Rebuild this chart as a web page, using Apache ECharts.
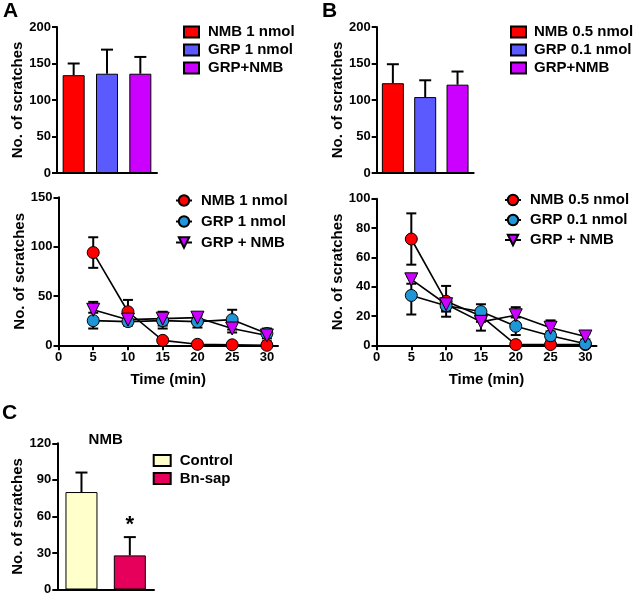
<!DOCTYPE html>
<html><head><meta charset="utf-8">
<script src="https://cdn.jsdelivr.net/npm/echarts@6/dist/echarts.min.js"></script>
<style>html,body{margin:0;padding:0;background:#fff}#c{width:640px;height:596px}</style>
</head><body><div id="c"></div>
<script>
// ---------- data ----------
const times = [5, 10, 15, 20, 25, 30];
const timeTicks = [0, 5, 10, 15, 20, 25, 30];

// Panel A (top bars)
const barLabelsA = ['NMB 1 nmol', 'GRP 1 nmol', 'GRP+NMB'];
const barMeanA = [134, 136, 136];
const barSemA = [16, 33, 23];
// Panel A (bottom time course)
const lineLabelsA = ['NMB 1 nmol', 'GRP 1 nmol', 'GRP + NMB'];
const nmbA = [94, 34, 5, 1, 0.5, 0];
const nmbSemA = [15.5, 12, 2, 1, 1, 1];
const grpA = [25, 24, 25, 24, 26, 12];
const grpSemA = [8, 4, 8, 6, 10, 5];
const combA = [36, 26, 27, 28, 17, 10];
const combSemA = [8, 4, 7, 4, 4, 6];

// Panel B (top bars)
const barLabelsB = ['NMB 0.5 nmol', 'GRP 0.1 nmol', 'GRP+NMB'];
const barMeanB = [123, 104, 121];
const barSemB = [26, 23, 18];
// Panel B (bottom time course)
const lineLabelsB = ['NMB 0.5 nmol', 'GRP 0.1 nmol', 'GRP + NMB'];
const nmbB = [72.5, 30, 20, 0.5, 0.5, 0.5];
const nmbSemB = [17.5, 10.5, 4, 1, 1, 1];
const grpB = [34, 27, 23, 13, 6.5, 1];
const grpSemB = [13, 4, 5, 6, 3, 1];
const combB = [45, 28, 16, 20.5, 12, 6];
const combSemB = [3, 4, 6, 5.5, 5, 2];

// Panel C
const labelsC = ['Control', 'Bn-sap'];
const meanC = [80, 28];
const semC = [16, 15];
const titleC = 'NMB';
const sigC = '*';

// ---------- styling ----------
const FONT = '"Liberation Sans", Arial, sans-serif';
const BLACK = '#000';
const barColors = ['#ff0000', '#5a5aff', '#cc00ff'];
const lineColors = ['#ff0000', '#1e96d8', '#cc00ff'];
const cColors = ['#ffffcc', '#e6005c'];

const nameMap = {};
function key(id, label) { nameMap[id] = label; return id; }

const grids = [
  {left: 57, top: 27, width: 100, height: 146},
  {left: 58.5, top: 197.3, width: 219.5, height: 148},
  {left: 376.7, top: 27, width: 97, height: 146},
  {left: 376.5, top: 198.7, width: 220, height: 146.6},
  {left: 57.3, top: 443.3, width: 96.7, height: 146.7}
];

const axisLineStyle = {show: true, lineStyle: {color: BLACK, width: 2}};
const axisTickStyle = {show: true, length: 5, lineStyle: {color: BLACK, width: 2}};
const labelStyle = {color: BLACK, fontFamily: FONT, fontWeight: 'bold', fontSize: 13};
const nameStyle = {color: BLACK, fontFamily: FONT, fontWeight: 'bold', fontSize: 15};

function yAxis(gi, max, interval, name) {
  return {type: 'value', gridIndex: gi, min: 0, max: max, interval: interval,
    axisLine: axisLineStyle, axisTick: axisTickStyle, splitLine: {show: false},
    axisLabel: Object.assign({margin: 6}, labelStyle),
    name: name, nameLocation: 'middle', nameGap: 30, nameTextStyle: nameStyle};
}
function catAxis(gi, cats) {
  return {type: 'category', gridIndex: gi, data: cats,
    axisLine: axisLineStyle, axisTick: {show: false}, axisLabel: {show: false}};
}
function timeAxis(gi) {
  return {type: 'value', gridIndex: gi, min: 0, max: 31.6,
    axisLine: axisLineStyle,
    axisTick: Object.assign({customValues: timeTicks}, axisTickStyle),
    axisLabel: Object.assign({margin: 6, customValues: timeTicks}, labelStyle),
    splitLine: {show: false},
    name: 'Time (min)', nameLocation: 'middle', nameGap: 27, nameTextStyle: nameStyle};
}

function errSeries(gi, data, cap, both) {
  return {
    type: 'custom', xAxisIndex: gi, yAxisIndex: gi, z: 1, silent: true,
    data: data,
    renderItem: function (params, api) {
      const x = api.value(0), lo = api.value(1), hi = api.value(2);
      const pLo = api.coord([x, lo]), pHi = api.coord([x, hi]);
      const hw = cap / 2;
      const st = {stroke: BLACK, lineWidth: 2};
      const ch = [
        {type: 'line', shape: {x1: pLo[0], y1: pLo[1], x2: pHi[0], y2: pHi[1]}, style: st},
        {type: 'line', shape: {x1: pHi[0] - hw, y1: pHi[1], x2: pHi[0] + hw, y2: pHi[1]}, style: st}
      ];
      if (both) ch.push({type: 'line', shape: {x1: pLo[0] - hw, y1: pLo[1], x2: pLo[0] + hw, y2: pLo[1]}, style: st});
      return {type: 'group', children: ch};
    }
  };
}

const series = [];
const legends = [];

function barPanel(gi, prefix, labels, means, sems, colors, barW, legendPos) {
  const names = [];
  labels.forEach(function (lab, i) {
    const nm = key(prefix + i, lab);
    names.push(nm);
    series.push({
      type: 'bar', name: nm, xAxisIndex: gi, yAxisIndex: gi, stack: prefix, barWidth: barW, z: 2,
      itemStyle: {color: colors[i], borderColor: BLACK, borderWidth: 1},
      data: means.map(function (v, j) { return j === i ? v : '-'; })
    });
  });
  series.push(errSeries(gi, means.map(function (v, j) { return [j, v, v + sems[j]]; }), 12, false));
  legends.push({
    orient: 'vertical', padding: 0, itemGap: 3, itemWidth: legendPos.w, itemHeight: 11,
    icon: 'rect', left: legendPos.left, top: legendPos.top,
    data: names, selectedMode: false,
    formatter: function (n) { return nameMap[n]; },
    textStyle: {color: BLACK, fontFamily: FONT, fontWeight: 'bold', fontSize: 15, padding: [0, 0, 0, legendPos.pad]}
  });
}

function linePanel(gi, prefix, labels, vals, sems, legendPos) {
  const names = [];
  const symbols = ['circle', 'circle', 'triangle'];
  const rot = [0, 0, 180];
  labels.forEach(function (lab, i) {
    const nm = key(prefix + i, lab);
    names.push(nm);
    series.push(errSeries(gi, times.map(function (t, j) { return [t, vals[i][j] - sems[i][j], vals[i][j] + sems[i][j]]; }), 10, true));
    series.push({
      type: 'line', name: nm, xAxisIndex: gi, yAxisIndex: gi, z: 3,
      symbol: symbols[i], symbolRotate: rot[i], symbolSize: i === 2 ? 13 : 12, showAllSymbol: true,
      lineStyle: {color: BLACK, width: 1.6},
      itemStyle: {color: lineColors[i], borderColor: BLACK, borderWidth: 1},
      data: times.map(function (t, j) { return [t, vals[i][j]]; })
    });
  });
  legends.push({
    orient: 'vertical', padding: 0, itemGap: legendPos.gap, itemWidth: 16, itemHeight: 13,
    left: legendPos.left, top: legendPos.top, data: names, selectedMode: false,
    formatter: function (n) { return nameMap[n]; },
    textStyle: {color: BLACK, fontFamily: FONT, fontWeight: 'bold', fontSize: 15, padding: [0, 0, 0, legendPos.pad]}
  });
}

barPanel(0, 'A1_', barLabelsA, barMeanA, barSemA, barColors, 22, {left: 183, top: 24.5, w: 15, pad: 4});
linePanel(1, 'A2_', lineLabelsA, [nmbA, grpA, combA], [nmbSemA, grpSemA, combSemA], {left: 175, top: 193, gap: 6, pad: 4});
barPanel(2, 'B1_', barLabelsB, barMeanB, barSemB, barColors, 22, {left: 510, top: 24.5, w: 15, pad: 3});
linePanel(3, 'B2_', lineLabelsB, [nmbB, grpB, combB], [nmbSemB, grpSemB, combSemB], {left: 504, top: 192.5, gap: 5, pad: 4});
barPanel(4, 'C_', labelsC, meanC, semC, cColors, 32, {left: 152.7, top: 453, w: 17, pad: 4});

const option = {
  animation: false,
  backgroundColor: '#fff',
  grid: grids,
  xAxis: [catAxis(0, barLabelsA), timeAxis(1), catAxis(2, barLabelsB), timeAxis(3), catAxis(4, labelsC)],
  yAxis: [
    yAxis(0, 200, 50, 'No. of scratches'),
    yAxis(1, 150, 50, 'No. of scratches'),
    yAxis(2, 200, 50, 'No. of scratches'),
    yAxis(3, 100, 20, 'No. of scratches'),
    yAxis(4, 120, 30, 'No. of scratches')
  ],
  legend: legends,
  series: series
};

const chart = echarts.init(document.getElementById('c'), null, {renderer: 'canvas'});
chart.setOption(option);

// annotations positioned through the chart's scales
const starPos = chart.convertToPixel({xAxisIndex: 4, yAxisIndex: 4}, [1, meanC[1] + semC[1]]);
const c0 = chart.convertToPixel({xAxisIndex: 4, yAxisIndex: 4}, [0, 120]);
const c1 = chart.convertToPixel({xAxisIndex: 4, yAxisIndex: 4}, [1, 120]);
const letterStyle = {fontFamily: FONT, fontWeight: 'bold', fontSize: 21, fill: BLACK};
chart.setOption({
  graphic: [
    {type: 'text', left: 3, top: 1, style: Object.assign({text: 'A'}, letterStyle)},
    {type: 'text', left: 322, top: 1, style: Object.assign({text: 'B'}, letterStyle)},
    {type: 'text', left: 2, top: 403, style: Object.assign({text: 'C'}, letterStyle)},
    {type: 'text', x: (c0[0] + c1[0]) / 2, y: c0[1] - 3, style: {text: titleC, fontFamily: FONT, fontWeight: 'bold', fontSize: 15, fill: BLACK, align: 'center', verticalAlign: 'middle'}},
    {type: 'text', x: starPos[0], y: starPos[1] - 12, style: {text: sigC, fontFamily: FONT, fontWeight: 'bold', fontSize: 22, fill: BLACK, align: 'center', verticalAlign: 'middle'}}
  ]
});
</script>
</body></html>
